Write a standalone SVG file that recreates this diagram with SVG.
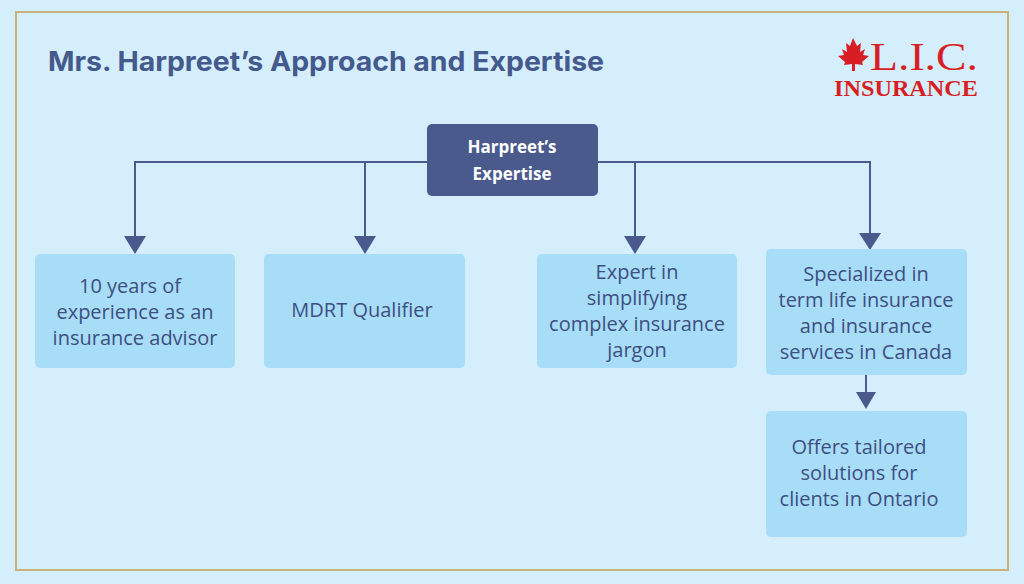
<svg xmlns="http://www.w3.org/2000/svg" width="1024" height="584" viewBox="0 0 1024 584">
<defs>
<style>
.box{fill:#a8ddf8;}
.t{font-family:"Open Sans","Liberation Sans",sans-serif;font-size:20px;fill:#3d4f80;text-anchor:middle;}
.ln{stroke:#4a5a8c;stroke-width:2;fill:none;}
</style>
</defs>
<rect width="1024" height="584" fill="#d4eefc"/>
<rect x="16" y="12" width="992" height="558" fill="none" stroke="#c9b27a" stroke-width="2"/>
<text x="48" y="71" font-family="Inter,'Open Sans',sans-serif" font-size="27" font-weight="bold" fill="#44598c" textLength="556" lengthAdjust="spacingAndGlyphs">Mrs. Harpreet’s Approach and Expertise</text>
<g id="logo" font-family="'Liberation Serif',serif" fill="#d81e24">
<path d="M853 38 l4 8 l4 -3 l-1 9 l5 -3 l-2 6 l6 1 l-7 6 l1 3 l-8 -1 l0 7 l-3 0 l0 -7 l-8 1 l1 -3 l-7 -6 l6 -1 l-2 -6 l5 3 l-1 -9 l4 3 z"/>
<text x="870" y="70" font-size="40" textLength="108" lengthAdjust="spacingAndGlyphs">L.I.C.</text>
<text x="834" y="96" font-size="23" font-weight="bold" textLength="144" lengthAdjust="spacingAndGlyphs">INSURANCE</text>
</g>
<g id="connectors" class="ln">
<path d="M427 162 H135 V240 M365 162 V240 M598 162 H870 V237 M635 162 V240 M866 375 V398"/>
<g fill="#4a5a8c" stroke="none">
<polygon points="124,236 146,236 135,254"/>
<polygon points="354,236 376,236 365,254"/>
<polygon points="624,236 646,236 635,254"/>
<polygon points="859,233 881,233 870,250"/>
<polygon points="856,392 876,392 866,409"/>
</g>
</g>
<g id="root"><rect x="427" y="124" width="171" height="72" rx="5" fill="#4a5a8c"/>
<text x="512" y="153" font-family="'Open Sans','Liberation Sans',sans-serif" font-size="17" font-weight="bold" fill="#fff" text-anchor="middle">Harpreet’s</text>
<text x="512" y="180" font-family="'Open Sans','Liberation Sans',sans-serif" font-size="17" font-weight="bold" fill="#fff" text-anchor="middle">Expertise</text></g>
<g id="n1"><rect class="box" x="35" y="254" width="200" height="114" rx="5"/>
<text class="t" x="130" y="293">10 years of</text><text class="t" x="135" y="319">experience as an</text><text class="t" x="135" y="345">insurance advisor</text></g>
<g id="n2"><rect class="box" x="264" y="254" width="201" height="114" rx="5"/>
<text class="t" x="362" y="317">MDRT Qualifier</text></g>
<g id="n3"><rect class="box" x="537" y="254" width="200" height="114" rx="5"/>
<text class="t" x="637" y="279">Expert in</text><text class="t" x="637" y="305">simplifying</text><text class="t" x="637" y="331">complex insurance</text><text class="t" x="637" y="357">jargon</text></g>
<g id="n4"><rect class="box" x="766" y="249" width="201" height="126" rx="5"/>
<text class="t" x="866" y="281">Specialized in</text><text class="t" x="866" y="307">term life insurance</text><text class="t" x="866" y="333">and insurance</text><text class="t" x="866" y="359">services in Canada</text></g>
<g id="n5"><rect class="box" x="766" y="411" width="201" height="126" rx="5"/>
<text class="t" x="859" y="454">Offers tailored</text><text class="t" x="859" y="480">solutions for</text><text class="t" x="859" y="506">clients in Ontario</text></g>
</svg>
